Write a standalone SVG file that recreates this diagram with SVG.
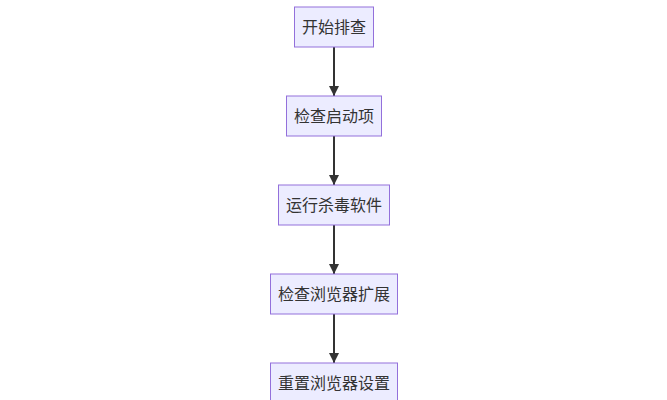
<svg xmlns="http://www.w3.org/2000/svg" width="667" height="400" viewBox="0 0 667 400">
<style>
.node rect{fill:#ECECFF;stroke:#9370DB;stroke-width:1}
.node text{font-family:"Liberation Sans","Noto Sans CJK SC",sans-serif;font-size:16px;fill:#333;text-anchor:middle;dominant-baseline:central}
.edge{stroke:#333;stroke-width:2;fill:none}
</style>
<defs>
<marker id="arr" viewBox="0 0 10 10" refX="10" refY="5" markerWidth="5" markerHeight="5" markerUnits="strokeWidth" orient="auto">
<path d="M0,0 L10,5 L0,10 z" fill="#333"/>
</marker>
</defs>
<rect width="667" height="400" fill="#fff"/>
<g id="connectors">
<line class="edge" x1="334" y1="47" x2="334" y2="96" marker-end="url(#arr)"/>
<line class="edge" x1="334" y1="136" x2="334" y2="185" marker-end="url(#arr)"/>
<line class="edge" x1="334" y1="225" x2="334" y2="274" marker-end="url(#arr)"/>
<line class="edge" x1="334" y1="314" x2="334" y2="363" marker-end="url(#arr)"/>
</g>
<g id="n1" class="node"><rect x="294.5" y="7" width="79" height="40"/><text x="334" y="27">开始排查</text></g>
<g id="n2" class="node"><rect x="286.5" y="96" width="95" height="40"/><text x="334" y="116">检查启动项</text></g>
<g id="n3" class="node"><rect x="278.5" y="185" width="111" height="40"/><text x="334" y="205">运行杀毒软件</text></g>
<g id="n4" class="node"><rect x="270.5" y="274" width="127" height="40"/><text x="334" y="294">检查浏览器扩展</text></g>
<g id="n5" class="node"><rect x="270.5" y="363" width="127" height="40"/><text x="334" y="383">重置浏览器设置</text></g>
</svg>
